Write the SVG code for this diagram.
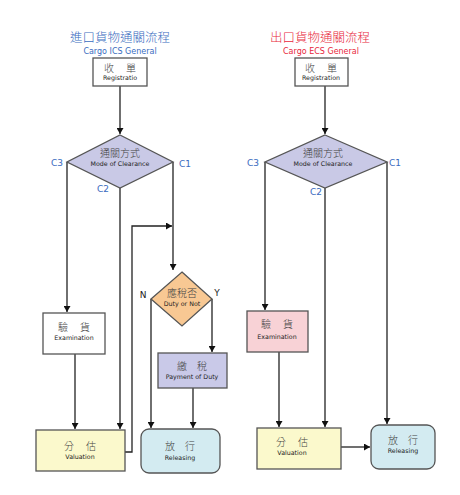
<svg xmlns="http://www.w3.org/2000/svg" width="460" height="495" viewBox="0 0 460 495">
<defs>
<marker id="ah" viewBox="0 0 10 10" refX="10" refY="5" markerWidth="6" markerHeight="7" orient="auto" markerUnits="userSpaceOnUse" preserveAspectRatio="none">
<path d="M0,0 L10,5 L0,10 z" fill="#111"/>
</marker>
<style>
.box{stroke:#555;stroke-width:1.3}
.zh{font-family:"Noto Sans CJK TC","Noto Sans CJK SC",sans-serif;font-size:10px;font-weight:300;fill:#444;text-anchor:middle}
.en{font-family:"DejaVu Sans","Liberation Sans",sans-serif;font-size:6.3px;fill:#222;text-anchor:middle}
.lbl{font-family:"DejaVu Sans","Liberation Sans",sans-serif;font-size:9px;fill:#3a6cc0;text-anchor:middle}
.lblk{font-family:"DejaVu Sans","Liberation Sans",sans-serif;font-size:9px;fill:#222;text-anchor:middle}
.arr{stroke:#222;stroke-width:1.3;fill:none;marker-end:url(#ah)}
</style>
</defs>
<rect width="460" height="495" fill="#fff"/>

<g id="titles">
<text x="120" y="42" style="font-family:'Noto Sans CJK TC',sans-serif;font-size:12.5px;font-weight:300;fill:#3a6cc0" text-anchor="middle">進口貨物通關流程</text>
<text x="120" y="54" style="font-family:'DejaVu Sans','Liberation Sans',sans-serif;font-size:8px;fill:#3a6cc0" text-anchor="middle">Cargo ICS General</text>
<text x="320" y="42" style="font-family:'Noto Sans CJK TC',sans-serif;font-size:12.5px;font-weight:300;fill:#e8283c" text-anchor="middle">出口貨物通關流程</text>
<text x="321" y="54" style="font-family:'DejaVu Sans','Liberation Sans',sans-serif;font-size:8px;fill:#e8283c" text-anchor="middle">Cargo ECS General</text>
</g>

<g id="connectors">
<line class="arr" x1="120" y1="86" x2="120" y2="134"/>
<line class="arr" x1="67" y1="162" x2="67" y2="312"/>
<line class="arr" x1="120" y1="188" x2="120" y2="429"/>
<line class="arr" x1="173" y1="162" x2="173" y2="270"/>
<polyline class="arr" points="125,452 132,452 132,226 172,226"/>
<line class="arr" x1="75" y1="354" x2="75" y2="429"/>
<line class="arr" x1="151" y1="299" x2="151" y2="428"/>
<polyline class="arr" points="212,299 212,352"/>
<line class="arr" x1="193" y1="388" x2="193" y2="428"/>
<line class="arr" x1="325" y1="86" x2="325" y2="134"/>
<line class="arr" x1="265" y1="162" x2="265" y2="310"/>
<line class="arr" x1="325" y1="188" x2="325" y2="427"/>
<line class="arr" x1="387" y1="162" x2="387" y2="424"/>
<line class="arr" x1="279" y1="352" x2="279" y2="427"/>
<line class="arr" x1="341" y1="447" x2="370" y2="447"/>
</g>

<g id="reg-left">
<rect class="box" x="93" y="58" width="54" height="28" fill="#fff"/>
<text class="zh" x="120" y="72">收　 單</text>
<text class="en" x="120" y="80">Registratio</text>
</g>
<g id="mode-left">
<polygon class="box" points="120,135 173,162 120,188 67,162" fill="#c9c9e6"/>
<text class="zh" x="120" y="157">通關方式</text>
<text class="en" x="120" y="166">Mode of Clearance</text>
<text class="lbl" x="57" y="166">C3</text>
<text class="lbl" x="185" y="167">C1</text>
<text class="lbl" x="103" y="192">C2</text>
</g>
<g id="exam-left">
<rect class="box" x="43" y="313" width="62" height="41" fill="#fff"/>
<text class="zh" x="74" y="331">驗　 貨</text>
<text class="en" x="74" y="339.5">Examination</text>
</g>
<g id="duty">
<polygon class="box" points="182,272 212,299 182,326 151,299" fill="#f8c893"/>
<text class="zh" x="182" y="297">應稅否</text>
<text class="en" x="182" y="306">Duty or Not</text>
<text class="lblk" x="143" y="298">N</text>
<text class="lblk" x="217" y="296">Y</text>
</g>
<g id="payment">
<rect class="box" x="158" y="353" width="69" height="35" fill="#c9c9e8"/>
<text class="zh" x="192" y="370">繳　稅</text>
<text class="en" x="192" y="378.5">Payment of Duty</text>
</g>
<g id="val-left">
<rect class="box" x="36" y="430" width="89" height="41" fill="#fbf9cc"/>
<text class="zh" x="80" y="450">分　 估</text>
<text class="en" x="80" y="458.5">Valuation</text>
</g>
<g id="rel-left">
<rect class="box" x="141" y="429" width="79" height="44" rx="8" fill="#d3ebf1"/>
<text class="zh" x="180" y="450">放　行</text>
<text class="en" x="180" y="459.5">Releasing</text>
</g>

<g id="reg-right">
<rect class="box" x="295" y="58" width="53" height="28" fill="#fff"/>
<text class="zh" x="321" y="72">收　 單</text>
<text class="en" x="321" y="80">Registration</text>
</g>
<g id="mode-right">
<polygon class="box" points="325,135 387,162 325,188 265,162" fill="#c9c9e6"/>
<text class="zh" x="323" y="157">通關方式</text>
<text class="en" x="323" y="166">Mode of Clearance</text>
<text class="lbl" x="253" y="166">C3</text>
<text class="lbl" x="395" y="166">C1</text>
<text class="lbl" x="316" y="195">C2</text>
</g>
<g id="exam-right">
<rect class="box" x="247" y="311" width="61" height="41" fill="#f8d2d6"/>
<text class="zh" x="277" y="328">驗　 貨</text>
<text class="en" x="277" y="338.5">Examination</text>
</g>
<g id="val-right">
<rect class="box" x="257" y="428" width="84" height="41" fill="#fbf9cc"/>
<text class="zh" x="292" y="446">分　 估</text>
<text class="en" x="292" y="455">Valuation</text>
</g>
<g id="rel-right">
<rect class="box" x="371" y="425" width="64" height="44" rx="8" fill="#d3ebf1"/>
<text class="zh" x="403" y="444">放　行</text>
<text class="en" x="403" y="453">Releasing</text>
</g>
</svg>
